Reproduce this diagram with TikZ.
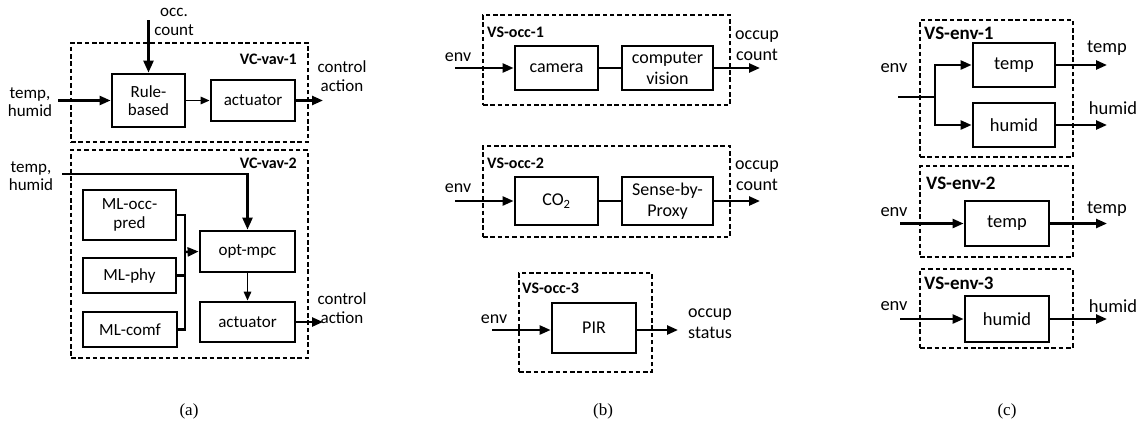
\documentclass[tikz,border=0pt]{standalone}
\usepackage{fontspec}
\setmainfont{Carlito}
\newfontfamily\capfont{Liberation Serif}
\usetikzlibrary{arrows.meta}
\begin{document}
\begin{tikzpicture}[x=1pt,y=-1pt,
  fa/.style={font=\fontsize{17}{18.5}\selectfont},
  fb/.style={font=\fontsize{18}{21}\selectfont},
  fc/.style={font=\fontsize{18.5}{21}\selectfont},
  blk/.style={draw,line width=2.8pt,rectangle,inner sep=0pt,align=center},
  grp/.style={draw,line width=2.4pt,dash pattern=on 4.5pt off 2.8pt,rectangle,inner sep=0pt},
  glbl/.style={font=\fontsize{16}{18}\bfseries\selectfont,inner sep=0pt},
  glblc/.style={font=\fontsize{19}{21}\bfseries\selectfont,inner sep=0pt},
  txt/.style={inner sep=0pt,align=center},
  arr/.style={line width=2.4pt,-{Triangle[length=11pt,width=9pt]}},
  thinarr/.style={line width=1.6pt,-{Triangle[length=9pt,width=7.5pt]}},
  conn/.style={line width=2.4pt},
  thinconn/.style={line width=1.8pt}
]
\useasboundingbox (0,0) rectangle (1142,423);

% ---------------- panel (a) ----------------
\node[grp,minimum width=237,minimum height=99] (g1) at (189.5,92.5) {};
\node[glbl,anchor=east] (g1l) at (297,59) {VC-vav-1};
\node[blk,fa,minimum width=73,minimum height=53] (rb) at (148.5,100.5) {Rule-\\based};
\node[blk,fa,minimum width=84,minimum height=41] (act1) at (253,100.5) {actuator};
\coordinate (in1) at (58,100.5);
\coordinate (occ) at (148.5,20);
\coordinate (out1) at (323,100.5);
\node[txt,fa] (in1l) at (30,102) {temp,\\humid};
\node[txt,fa] (occl) at (174,22) {occ.\\count};
\node[txt,fa] (out1l) at (342,76) {control\\action};
\draw[arr] (in1) -- (rb.west);
\draw[arr,-{Triangle[length=12pt,width=10pt]}] (occ) -- (rb.north);
\draw[thinarr] (rb.east) -- (act1.west);
\draw[arr] (act1.east) -- (out1);

\node[grp,minimum width=237,minimum height=208] (g2) at (189.5,254) {};
\node[glbl,anchor=east] (g2l) at (297,163) {VC-vav-2};
\node[txt,fa] (in2l) at (31,176) {temp,\\humid};
\node[blk,fa,minimum width=93,minimum height=50] (mlo) at (129.5,215) {ML-occ-\\pred};
\node[blk,fa,minimum width=93,minimum height=35] (mlp) at (129.5,275.5) {ML-phy};
\node[blk,fa,minimum width=94,minimum height=35] (mlc) at (130,329.5) {ML-comf};
\node[blk,fa,minimum width=95,minimum height=41] (opt) at (247.5,251.5) {opt-mpc};
\node[blk,fa,minimum width=95,minimum height=40] (act2) at (247.5,322) {actuator};
\coordinate (in2) at (62,174);
\coordinate (bus) at (185,252);
\coordinate (out2) at (323,322);
\node[txt,fa] (out2l) at (342,308) {control\\action};
\draw[arr,-{Triangle[length=12pt,width=10pt]}] (in2) -| (opt.north);
\draw[conn] (mlo.east) -| (bus |- mlc.east) -- (mlc.east);
\draw[conn] (mlp.east) -- (bus |- mlp.east);
\draw[arr] (bus) -- (opt.west);
\draw[thinarr] (opt.south) -- (act2.north);
\draw[arr] (act2.east) -- (out2);

% ---------------- panel (b) ----------------
\node[grp,minimum width=247,minimum height=90] (g3) at (606.5,60) {};
\node[glbl,anchor=west] (g3l) at (487,32) {VS-occ-1};
\node[blk,fb,minimum width=83,minimum height=44] (cam) at (556.5,68) {camera};
\node[blk,fb,minimum width=91,minimum height=44] (cv) at (667.5,68) {computer\\vision};
\coordinate (in3) at (455,68);
\coordinate (out3) at (760,68);
\node[txt,fb] (in3l) at (458,57) {env};
\node[txt,fb] (out3l) at (757,46) {occup\\count};
\draw[arr] (in3) -- (cam.west);
\draw[thinconn] (cam.east) -- (cv.west);
\draw[arr] (cv.east) -- (out3);

\node[grp,minimum width=247,minimum height=91] (g4) at (606.5,191.5) {};
\node[glbl,anchor=west] (g4l) at (487,163) {VS-occ-2};
\node[blk,fb,minimum width=83,minimum height=48] (co2) at (556.5,201) {CO\textsubscript{2}};
\node[blk,fb,minimum width=91,minimum height=48] (sbp) at (667.5,201) {Sense-by-\\Proxy};
\coordinate (in4) at (455,201);
\coordinate (out4) at (760,201);
\node[txt,fb] (in4l) at (458,188) {env};
\node[txt,fb] (out4l) at (757,176) {occup\\count};
\draw[arr] (in4) -- (co2.west);
\draw[thinconn] (co2.east) -- (sbp.west);
\draw[arr] (sbp.east) -- (out4);

\node[grp,minimum width=133,minimum height=99] (g5) at (585.5,322.5) {};
\node[glbl,anchor=west] (g5l) at (522,288) {VS-occ-3};
\node[blk,fb,minimum width=84,minimum height=50] (pir) at (594,328) {PIR};
\coordinate (in5) at (492,330);
\coordinate (out5) at (678,330);
\node[txt,fb] (in5l) at (494,319) {env};
\node[txt,fb] (out5l) at (710,324) {occup\\status};
\draw[arr] (in5) -- (in5 -| pir.west);
\draw[arr] (pir.east |- out5) -- (out5);

% ---------------- panel (c) ----------------
\node[grp,minimum width=153,minimum height=137] (g6) at (996.5,88.5) {};
\node[glblc,anchor=west] (g6l) at (924,33) {VS-env-1};
\node[blk,fc,minimum width=82,minimum height=44] (t1) at (1014,65) {temp};
\node[blk,fc,minimum width=82,minimum height=44] (h1) at (1014,125) {humid};
\coordinate (in6) at (898,97);
\coordinate (br6) at (935,97);
\coordinate (out6a) at (1107,65);
\coordinate (out6b) at (1107,125);
\node[txt,fc] (in6l) at (894,68) {env};
\node[txt,fc] (out6al) at (1107,48) {temp};
\node[txt,fc] (out6bl) at (1113,108) {humid};
\draw[conn] (in6) -- (br6);
\draw[arr] (br6) |- (t1.west);
\draw[arr] (br6) |- (h1.west);
\draw[arr] (t1.east) -- (out6a);
\draw[arr] (h1.east) -- (out6b);

\node[grp,minimum width=153,minimum height=91] (g7) at (996.5,211.5) {};
\node[glblc,anchor=west] (g7l) at (926,183) {VS-env-2};
\node[blk,fc,minimum width=84,minimum height=45] (t2) at (1007,223.5) {temp};
\coordinate (in7) at (900,223.5);
\coordinate (out7) at (1107,223.5);
\node[txt,fc] (in7l) at (894,212) {env};
\node[txt,fc] (out7l) at (1107,209) {temp};
\draw[arr] (in7) -- (t2.west);
\draw[arr] (t2.east) -- (out7);

\node[grp,minimum width=153,minimum height=79] (g8) at (996.5,308.5) {};
\node[glblc,anchor=west] (g8l) at (924,283) {VS-env-3};
\node[blk,fc,minimum width=84,minimum height=46] (h3) at (1007,319) {humid};
\coordinate (in8) at (900,319);
\coordinate (out8) at (1107,319);
\node[txt,fc] (in8l) at (894,306) {env};
\node[txt,fc] (out8l) at (1113,306) {humid};
\draw[arr] (in8) -- (h3.west);
\draw[arr] (h3.east) -- (out8);

% ---------------- captions ----------------
\node[txt,font=\capfont\fontsize{17}{18}\selectfont] (capa) at (189,411) {(a)};
\node[txt,font=\capfont\fontsize{17}{18}\selectfont] (capb) at (603,411) {(b)};
\node[txt,font=\capfont\fontsize{17}{18}\selectfont] (capc) at (1007,411) {(c)};
\end{tikzpicture}
\end{document}
